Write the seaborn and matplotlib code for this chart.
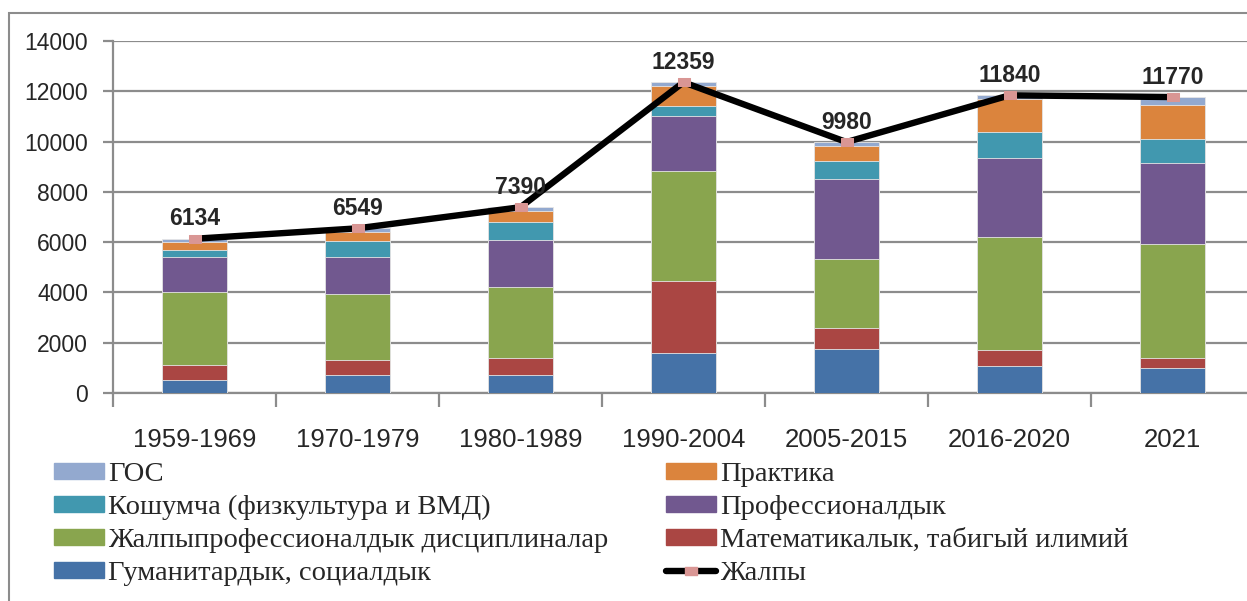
import numpy as np
import pandas as pd
import matplotlib.pyplot as plt
import seaborn as sns
from matplotlib.patches import Patch, Rectangle
from matplotlib.lines import Line2D

periods = ['1959-1969', '1970-1979', '1980-1989', '1990-2004', '2005-2015', '2016-2020', '2021']

# сегменты снизу вверх
gumanitar = [530, 733, 707, 1600, 1760, 1067, 987]
matem = [580, 587, 693, 2840, 840, 627, 413]
jalpyprof = [2890, 2613, 2827, 4387, 2733, 4507, 4533]
prof = [1400, 1467, 1866, 2200, 3187, 3160, 3213]
koshumcha = [307, 640, 707, 400, 720, 1000, 973]
praktika = [293, 373, 427, 773, 587, 1333, 1333]
gos = [134, 136, 163, 159, 153, 146, 318]
totals = [6134, 6549, 7390, 12359, 9980, 11840, 11770]

labels = ['Гуманитардык, социалдык', 'Математикалык, табигый илимий',
          'Жалпыпрофессионалдык дисциплиналар', 'Профессионалдык',
          'Кошумча (физкультура и ВМД)', 'Практика', 'ГОС']
colors = ['#4572A7', '#AA4643', '#89A54E', '#71588F', '#4198AF', '#DB843D', '#93A9CF']

df = pd.DataFrame({
    labels[0]: gumanitar,
    labels[1]: matem,
    labels[2]: jalpyprof,
    labels[3]: prof,
    labels[4]: koshumcha,
    labels[5]: praktika,
    labels[6]: gos,
}, index=periods)
cum = df.cumsum(axis=1)

sns.set_style('white')
plt.rcParams['font.family'] = ['Liberation Sans', 'DejaVu Sans']

fig = plt.figure(figsize=(12.47, 6.01), dpi=100)
ax = fig.add_axes([113 / 1247, 208 / 601, 1141 / 1247, 352 / 601])

grid_c = '#8c8c8c'

# стек: рисуем накопленные суммы сверху вниз
for col, c in zip(labels[::-1], colors[::-1]):
    sns.barplot(x=periods, y=cum[col].values, color=c, saturation=1, width=0.4,
                errorbar=None, edgecolor='#e6e6e6', linewidth=0.6, ax=ax, zorder=3)

pink = '#D99694'
rect_marker = [(-1.7, -1), (1.7, -1), (1.7, 1), (-1.7, 1), (-1.7, -1)]
sns.lineplot(x=periods, y=totals, sort=False, color='black', linewidth=4.6,
             marker=rect_marker, markersize=9, markerfacecolor=pink,
             markeredgecolor=pink, ax=ax, zorder=5)

for i, t in enumerate(totals):
    ax.annotate(str(t), (i, t), xytext=(0, 6), textcoords='offset points',
                ha='center', va='bottom', fontsize=16.5, fontweight='bold', zorder=6)

ax.set_xlim(-0.5, 6.5)
ax.set_ylim(0, 14000)
ax.set_yticks(np.arange(0, 14001, 2000))
ax.yaxis.grid(True, color=grid_c, linewidth=1.6, zorder=0)
ax.set_axisbelow(True)
ax.set_xlabel('')
ax.set_ylabel('')

for s in ['top', 'right']:
    ax.spines[s].set_visible(False)
for s in ['left', 'bottom']:
    ax.spines[s].set_color(grid_c)
    ax.spines[s].set_linewidth(1.6)

ax.tick_params(axis='y', which='major', direction='out', length=7, width=1.6,
               color=grid_c, labelsize=16.5, pad=11, left=True)
ax.tick_params(axis='x', which='major', length=0, labelsize=18.5, pad=25)
ax.set_xticks(np.arange(-0.5, 7, 1), minor=True)
ax.tick_params(axis='x', which='minor', direction='out', length=10, width=1.6,
               color=grid_c, bottom=True)

# легенда
handles = [Patch(color=c) for c in colors]
line_h = Line2D([], [], color='black', linewidth=4.6, marker=rect_marker,
                markersize=9, markerfacecolor=pink, markeredgecolor=pink)
order_h = [handles[6], handles[4], handles[2], handles[0],
           handles[5], handles[3], handles[1], line_h]
order_l = [labels[6], labels[4], labels[2], labels[0],
           labels[5], labels[3], labels[1], 'Жалпы']
fig.legend(order_h, order_l, ncol=2, loc='upper left', bbox_to_anchor=(54 / 1247, 1 - 462 / 601),
           frameon=False, prop={'family': 'Liberation Serif', 'size': 20.5},
           handlelength=1.75, handleheight=0.5, handletextpad=0.14, columnspacing=2.05,
           labelspacing=0.28, borderpad=0, borderaxespad=0)

fig.patches.append(Rectangle((9 / 1247, -0.1), 1.2, 1.1 - 13 / 601, transform=fig.transFigure,
                             fill=False, edgecolor=grid_c, linewidth=1.5))

fig.savefig('out.png', dpi=100)
